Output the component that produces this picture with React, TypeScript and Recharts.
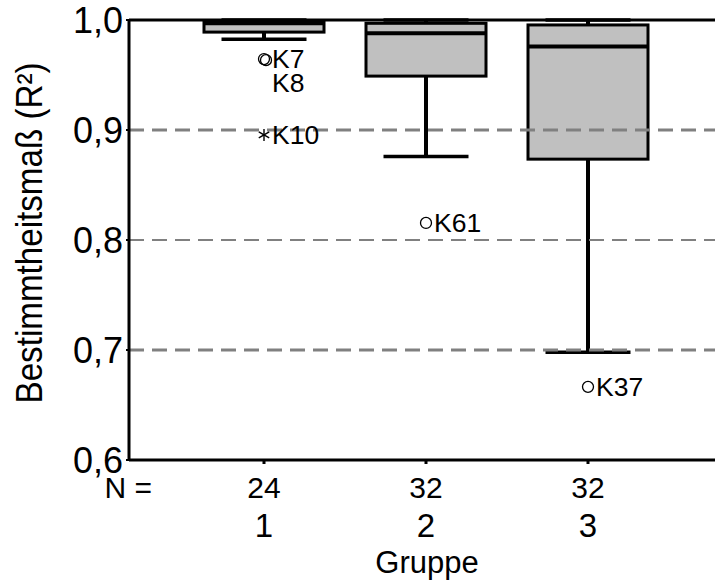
import React from 'react';
import { ComposedChart, Bar, Scatter, XAxis, YAxis, ReferenceLine } from 'recharts';

const GROUPS = ['1', '2', '3'];
const N_COUNTS = [24, 32, 32];
const LOWER_WHISKER = [0.9825, 0.876, 0.698];
const Q1 = [0.989, 0.949, 0.8735];
const MEDIAN = [0.997, 0.988, 0.976];
const Q3 = [0.999, 0.997, 0.9955];
const UPPER_WHISKER = [1.0, 1.0, 1.0];

const OUTLIER_GROUP = ['1', '1', '1', '2', '3'];
const OUTLIER_VALUE = [0.9645, 0.9635, 0.8955, 0.8155, 0.6665];
const OUTLIER_LABEL = ['K7', 'K8', 'K10', 'K61', 'K37'];
const OUTLIER_EXTREME = [false, false, true, false, false];

const Y_TICKS = [0.6, 0.7, 0.8, 0.9, 1.0];
const GRID_LINES = [0.7, 0.8, 0.9];

const FONT = '"Liberation Sans", Arial, sans-serif';
const BOX_W = 120;
const CAP_W = 85;
// overlapping markers/labels get nudged apart, like SPSS does
const LABEL_DY: Record<string, number> = { K8: 23 };
const MARKER_DX: Record<string, number> = { K8: 2 };

const boxData = GROUPS.map((g, i) => ({
  g,
  n: N_COUNTS[i],
  lo: LOWER_WHISKER[i],
  q1: Q1[i],
  med: MEDIAN[i],
  q3: Q3[i],
  hi: UPPER_WHISKER[i],
}));

const outlierData = OUTLIER_LABEL.map((label, i) => ({
  g: OUTLIER_GROUP[i],
  v: OUTLIER_VALUE[i],
  label,
  extreme: OUTLIER_EXTREME[i],
}));

const Whisker = (p: any) => {
  const cx = p.x + p.width / 2;
  const top = p.y;
  const bottom = p.y + p.height;
  return (
    <g>
      <line x1={cx} x2={cx} y1={top} y2={bottom} stroke="#000" strokeWidth={4} />
      <line x1={cx - CAP_W / 2} x2={cx + CAP_W / 2} y1={top} y2={top} stroke="#000" strokeWidth={3.5} />
      <line x1={cx - CAP_W / 2} x2={cx + CAP_W / 2} y1={bottom} y2={bottom} stroke="#000" strokeWidth={3.5} />
    </g>
  );
};

const Box = (p: any) => (
  <rect x={p.x} y={p.y} width={p.width} height={p.height} fill="#c0c0c0" stroke="#000" strokeWidth={3} />
);

const MedianLine = (p: any) => (
  <line x1={p.cx - BOX_W / 2} x2={p.cx + BOX_W / 2} y1={p.cy} y2={p.cy} stroke="#000" strokeWidth={4} />
);

const Outlier = (p: any) => {
  const { cx, cy, payload } = p;
  const dy = LABEL_DY[payload.label] || 0;
  const mx = cx + (MARKER_DX[payload.label] || 0);
  const a = 6;
  return (
    <g>
      {payload.extreme ? (
        <g stroke="#000" strokeWidth={1.4}>
          <line x1={mx} x2={mx} y1={cy - a} y2={cy + a} />
          <line x1={mx - a * 0.87} x2={mx + a * 0.87} y1={cy - a / 2} y2={cy + a / 2} />
          <line x1={mx - a * 0.87} x2={mx + a * 0.87} y1={cy + a / 2} y2={cy - a / 2} />
        </g>
      ) : (
        <circle cx={mx} cy={cy} r={5.5} fill="none" stroke="#000" strokeWidth={1.3} />
      )}
      <text x={cx + 8} y={cy + 9 + dy} fontSize={26.5} fontFamily={FONT} fill="#000">
        {payload.label}
      </text>
    </g>
  );
};

const XTick = (p: any) => {
  const { x, y, payload } = p;
  const row = boxData.find((d) => d.g === payload.value);
  return (
    <g fontFamily={FONT} fill="#000" textAnchor="middle">
      <text x={x} y={y + 34} fontSize={30}>{row ? row.n : ''}</text>
      <text x={x} y={y + 73} fontSize={33}>{payload.value}</text>
    </g>
  );
};

const XLabels = (p: any) => {
  const vb = p.viewBox || { x: 129, y: 460, width: 586, height: 122 };
  return (
    <g fontFamily={FONT} fill="#000">
      <text x={vb.x + 23} y={vb.y + 38} fontSize={30} textAnchor="end">N =</text>
      <text x={vb.x + vb.width / 2 + 5} y={vb.y + 113} fontSize={31} textAnchor="middle">
        Gruppe
      </text>
    </g>
  );
};

const YLabel = (p: any) => {
  const vb = p.viewBox || { x: 0, y: 20, width: 129, height: 440 };
  const x = vb.x + 29;
  const y = vb.y + 213;
  return (
    <text
      x={x}
      y={y}
      transform={`rotate(-90, ${x}, ${y})`}
      textAnchor="middle"
      dominantBaseline="central"
      fontSize={36}
      textLength={341}
      lengthAdjust="spacingAndGlyphs"
      fontFamily={FONT}
      fill="#000"
    >
      Bestimmtheitsmaß (R²)
    </text>
  );
};

export default function App() {
  return (
    <div style={{ width: 715, height: 582, background: '#fff' }}>
      <style>{'body{margin:0}'}</style>
      <ComposedChart
        width={715}
        height={582}
        data={boxData}
        margin={{ top: 20, right: 0, bottom: 0, left: 0 }}
        barGap={-BOX_W}
      >
        <XAxis
          dataKey="g"
          type="category"
          allowDuplicatedCategory={false}
          padding={{ left: 54, right: 46 }}
          height={122}
          interval={0}
          axisLine={{ stroke: '#000', strokeWidth: 3 }}
          tickLine={{ stroke: '#000', strokeWidth: 3 }}
          tickSize={4}
          tickMargin={0}
          tick={<XTick />}
          label={{ content: XLabels }}
        />
        <YAxis
          type="number"
          domain={[0.6, 1.0]}
          ticks={Y_TICKS}
          width={129}
          interval={0}
          axisLine={{ stroke: '#000', strokeWidth: 3 }}
          tickLine={{ stroke: '#000', strokeWidth: 2 }}
          tickSize={3}
          tickMargin={3}
          tick={{ fill: '#000', fontSize: 36, fontFamily: FONT }}
          tickFormatter={(v: number) => v.toFixed(1).replace('.', ',')}
          label={{ content: YLabel }}
        />
        {GRID_LINES.map((v) => (
          <ReferenceLine
            key={v}
            y={v}
            stroke="#808080"
            strokeWidth={v === 0.8 ? 2 : 3}
            strokeDasharray="15 8"
          />
        ))}
        <ReferenceLine y={1.0} stroke="#000" strokeWidth={3} />
        <Bar dataKey={(d: any) => [d.lo, d.hi]} barSize={BOX_W} shape={Whisker} isAnimationActive={false} />
        <Bar dataKey={(d: any) => [d.q1, d.q3]} barSize={BOX_W} shape={Box} isAnimationActive={false} />
        <Scatter dataKey="med" shape={MedianLine} isAnimationActive={false} />
        <Scatter data={outlierData} dataKey="v" shape={Outlier} isAnimationActive={false} />
      </ComposedChart>
    </div>
  );
}
